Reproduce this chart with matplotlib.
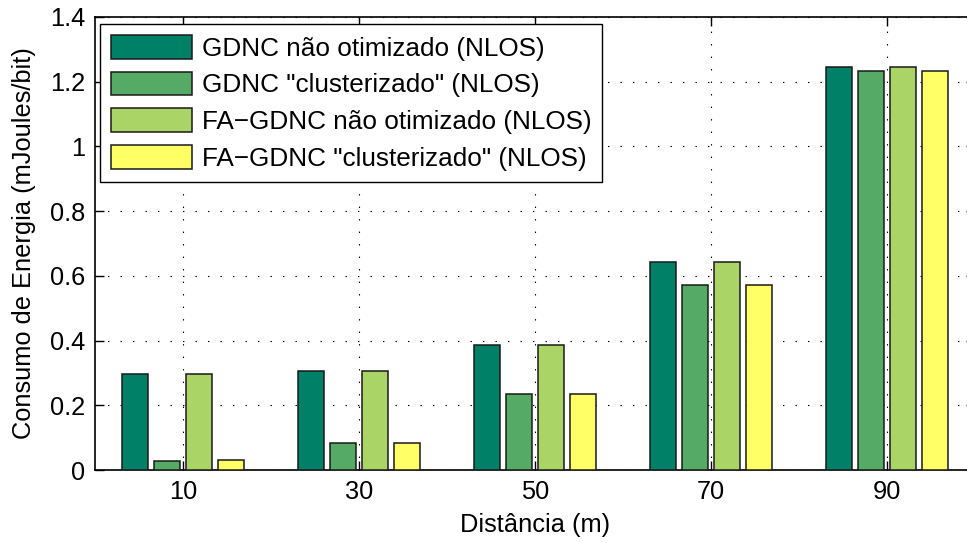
import matplotlib
matplotlib.use("Agg")
import matplotlib.pyplot as plt
import numpy as np

plt.rcParams['font.family'] = ['Liberation Sans', 'DejaVu Sans']
plt.rcParams['lines.scale_dashes'] = False

distances = [10, 30, 50, 70, 90]
series_labels = ['GDNC não otimizado (NLOS)',
                 'GDNC "clusterizado" (NLOS)',
                 'FA\u2212GDNC não otimizado (NLOS)',
                 'FA\u2212GDNC "clusterizado" (NLOS)']
gdnc_nao_otim = [0.297, 0.307, 0.386, 0.644, 1.244]
gdnc_cluster = [0.028, 0.083, 0.234, 0.573, 1.234]
fa_gdnc_nao_otim = [0.297, 0.307, 0.386, 0.644, 1.244]
fa_gdnc_cluster = [0.030, 0.083, 0.234, 0.573, 1.234]
series = [gdnc_nao_otim, gdnc_cluster, fa_gdnc_nao_otim, fa_gdnc_cluster]
colors = ['#008066', '#55AA66', '#AAD466', '#FFFF66']
yticks = [0, 0.2, 0.4, 0.6, 0.8, 1, 1.2, 1.4]
ytick_labels = ['0', '0.2', '0.4', '0.6', '0.8', '1', '1.2', '1.4']

FS = 18.3
LFS = 18.8
W, H = 967, 543
fig = plt.figure(figsize=(W / 100, H / 100), dpi=100)
ax = fig.add_axes([95 / W, (H - 470) / H, 880 / W, 453 / H])

n = len(series)
spacing = 20.0
group_w = spacing * n / (n + 1.5)
slot = group_w / n
bar_w = slot * 0.8
x = np.array(distances, dtype=float)
for i, (vals, c, lab) in enumerate(zip(series, colors, series_labels)):
    ax.bar(x + (i - (n - 1) / 2) * slot, vals, width=bar_w, color=c,
           edgecolor='#1a1a1a', linewidth=1.1, label=lab, zorder=3)

ax.set_xlim(0, 100)
ax.set_ylim(0, 1.4)
ax.set_xticks(distances)
ax.set_xticklabels([str(d) for d in distances])
ax.set_yticks(yticks)
ax.set_yticklabels(ytick_labels)
ax.tick_params(axis='both', direction='in', length=6.5, width=1.0,
               labelsize=FS, top=True, right=True, pad=7)
ax.grid(True, color='black', linestyle=(0, (1, 8)), linewidth=0.8, zorder=0)
ax.set_axisbelow(True)
for s in ax.spines.values():
    s.set_linewidth(1.2)

ax.set_xlabel('Distância (m)', fontsize=FS, labelpad=7)
ax.set_ylabel('Consumo de Energia (mJoules/bit)', fontsize=FS, labelpad=10)

leg = ax.legend(loc='upper left', bbox_to_anchor=(5 / 880, 446 / 453),
                borderaxespad=0, fontsize=LFS, handlelength=3.1, handleheight=1.03,
                labelspacing=0.41, handletextpad=0.38, borderpad=0.42,
                fancybox=False, framealpha=1, edgecolor='black')
leg.get_frame().set_linewidth(1.0)

fig.savefig('out.png', dpi=100)
